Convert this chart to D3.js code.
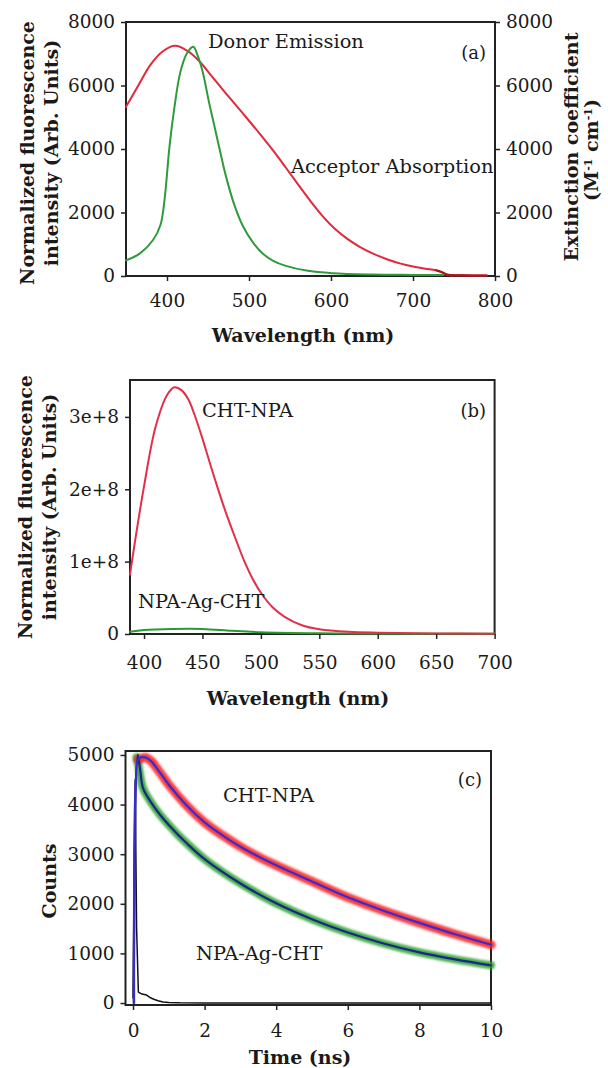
<!DOCTYPE html>
<html>
<head>
<meta charset="utf-8">
<script src="https://cdn.jsdelivr.net/npm/d3@7"></script>
<style>
  body { margin: 0; background: #fff; }
  text { font-family: "DejaVu Serif", serif; fill: #1a1a1a; }
  .tick line { stroke: #222; stroke-width: 1.5; }
  .tick text { font-size: 18.5px; }
  .ttl { font-weight: bold; font-size: 19px; }
  .ann { font-size: 19.4px; }
</style>
</head>
<body>
<svg id="chart" width="608" height="1068">
  <defs>
    <filter id="fuzz" x="-5%" y="-5%" width="110%" height="110%">
      <feGaussianBlur stdDeviation="0.9"/>
    </filter>
  </defs>
</svg>
<script>
// ---- panel (a): donor emission / acceptor absorption
const absWave = [350, 365, 380, 395, 410, 425, 440, 455, 470, 485, 500, 515, 530, 545, 560, 575, 590, 605, 620, 635, 650, 669, 685, 700, 715, 728, 736, 742, 760, 790];
const absVal  = [5330, 6000, 6660, 7080, 7250, 7090, 6750, 6280, 5810, 5350, 4890, 4420, 3930, 3410, 2880, 2360, 1880, 1480, 1170, 920, 720, 520, 390, 300, 230, 180, 110, 40, 25, 15];
const emWave = [350, 367, 383, 392, 397, 403, 409, 416, 424, 432, 438, 444, 451, 458, 465, 472, 482, 493, 505, 517, 530, 545, 570, 602, 650, 700, 737];
const emVal  = [490, 714, 1134, 1606, 2400, 4070, 5300, 6390, 7000, 7220, 6900, 6380, 5500, 4700, 3900, 3130, 2250, 1550, 1050, 700, 470, 320, 170, 85, 45, 35, 30];
const aXTicks = [400, 500, 600, 700, 800];
const aYTicks = [0, 2000, 4000, 6000, 8000];

// ---- panel (b): steady-state emission
const bWave = [388, 392, 400, 410, 420, 426, 432, 438, 443, 450, 456, 463, 470, 478, 486, 493, 500, 510, 520, 535, 550, 575, 600, 650, 700];
const bCht  = [0.82e8, 1.25e8, 2.04e8, 2.87e8, 3.31e8, 3.41e8, 3.37e8, 3.24e8, 3.04e8, 2.70e8, 2.38e8, 2.02e8, 1.68e8, 1.33e8, 1.00e8, 0.76e8, 0.57e8, 0.37e8, 0.24e8, 0.12e8, 0.065e8, 0.03e8, 0.018e8, 0.008e8, 0.005e8];
const bAgWave = [388, 400, 425, 450, 475, 500, 550, 600, 700];
const bAg     = [0.03e8, 0.055e8, 0.07e8, 0.07e8, 0.045e8, 0.025e8, 0.01e8, 0.005e8, 0.003e8];
const bXTicks = [400, 450, 500, 550, 600, 650, 700];
const bYTicks = [0, 1e8, 2e8, 3e8];
const bYLabels = ["0", "1e+8", "2e+8", "3e+8"];

// ---- panel (c): lifetime decay
const cRedT = [0.14, 0.2, 0.35, 0.5, 0.75, 1, 1.5, 2, 2.5, 3, 3.5, 4, 5, 6, 7, 8, 9, 10];
const cRed  = [4900, 4920, 4950, 4880, 4650, 4400, 3980, 3640, 3380, 3150, 2950, 2775, 2450, 2130, 1860, 1615, 1385, 1175];
const cGreenT = [0.1, 0.15, 0.28, 0.5, 0.76, 1, 1.23, 1.5, 2, 2.5, 3, 3.5, 4, 5, 6, 7, 8, 9, 10];
const cGreen  = [4950, 4800, 4330, 4050, 3790, 3590, 3410, 3220, 2900, 2640, 2410, 2200, 2010, 1690, 1420, 1200, 1020, 880, 760];
const fitRedT = [0.03, 0.08, 0.15, 0.35, 0.5, 0.75, 1, 1.5, 2, 2.5, 3, 4, 5, 6, 7, 8, 9, 10];
const fitRed  = [0, 4500, 4920, 4950, 4880, 4650, 4400, 3980, 3640, 3380, 3150, 2775, 2450, 2130, 1860, 1615, 1385, 1175];
const fitGreenT = [0.02, 0.13, 0.2, 0.28, 0.5, 0.76, 1, 1.5, 2, 3, 4, 5, 6, 7, 8, 9, 10];
const fitGreen  = [0, 5000, 4700, 4330, 4050, 3790, 3590, 3220, 2900, 2410, 2010, 1690, 1420, 1200, 1020, 880, 760];
const irfT = [0, 0.03, 0.06, 0.1, 0.15, 0.25, 0.38, 0.5, 0.6, 0.7, 0.84, 1.0, 1.3, 2, 4, 6, 8, 10];
const irf  = [100, 2500, 4500, 1500, 220, 180, 160, 100, 70, 45, 20, 10, 3, 0, 0, 0, 0, 0];
const cXTicks = [0, 2, 4, 6, 8, 10];
const cYTicks = [0, 1000, 2000, 3000, 4000, 5000];

const svg = d3.select("#chart");
const smooth = d3.curveCatmullRom.alpha(0.5);

function zip(xs, ys) { return xs.map((v, i) => [v, ys[i]]); }

function frame(x, y) {
  const [x0, x1] = x.range(), [y0, y1] = y.range();
  svg.append("rect")
    .attr("x", x0).attr("y", y1)
    .attr("width", x1 - x0).attr("height", y0 - y1)
    .attr("fill", "none").attr("stroke", "#222").attr("stroke-width", 2);
}

function xAxis(x, yPos, ticks, pad) {
  svg.append("g")
    .attr("transform", `translate(0,${yPos})`)
    .call(d3.axisBottom(x).tickValues(ticks).tickSize(5).tickPadding(pad).tickFormat(d3.format("d")))
    .call(g => g.select(".domain").remove());
}

function yAxis(y, xPos, ticks, labels, left) {
  const ax = (left ? d3.axisLeft(y) : d3.axisRight(y))
    .tickValues(ticks).tickSize(5).tickPadding(6)
    .tickFormat((d, i) => labels ? labels[i] : d3.format("d")(d));
  svg.append("g")
    .attr("transform", `translate(${xPos},0)`)
    .call(ax)
    .call(g => g.select(".domain").remove());
}

function line(x, y, pts, color, width, curve) {
  return svg.append("path")
    .datum(pts)
    .attr("fill", "none")
    .attr("stroke", color)
    .attr("stroke-width", width)
    .attr("stroke-linejoin", "round")
    .attr("stroke-linecap", "round")
    .attr("d", d3.line().x(d => x(d[0])).y(d => y(d[1])).curve(curve || smooth));
}

function label(txt, xPos, yPos, cls, anchor) {
  return svg.append("text").attr("x", xPos).attr("y", yPos)
    .attr("class", cls).attr("text-anchor", anchor || "start").text(txt);
}

function vlabel(txt, xPos, yPos) {
  return svg.append("text").attr("class", "ttl").attr("text-anchor", "middle")
    .attr("transform", `translate(${xPos},${yPos}) rotate(-90)`).text(txt);
}

// ================= (a)
const xa = d3.scaleLinear().domain([350, 800]).range([126, 495]);
const ya = d3.scaleLinear().domain([0, 8000]).range([276, 22]);
frame(xa, ya);
line(xa, ya, zip(absWave, absVal), "#e3283c", 2);
line(xa, ya, zip(absWave.slice(-5), absVal.slice(-5)), "#a81818", 2);
line(xa, ya, zip(emWave, emVal), "#2f9a3c", 2);
xAxis(xa, 276, aXTicks, 13);
yAxis(ya, 126, aYTicks, null, true);
yAxis(ya, 495, aYTicks, null, false);
label("Donor Emission", 208, 48, "ann");
label("(a)", 486, 59, "ann", "end").style("font-size", "18px");
label("Acceptor Absorption", 291, 173, "ann");
label("Wavelength (nm)", 303, 342, "ttl", "middle");
vlabel("Normalized fluorescence", 34, 153);
vlabel("intensity (Arb. Units)", 58, 153);
vlabel("Extinction coefficient", 578, 147);
const sup = vlabel("", 598, 150);
sup.append("tspan").text("(M");
sup.append("tspan").attr("baseline-shift", "super").style("font-size", "11px").text("-1");
sup.append("tspan").text(" cm");
sup.append("tspan").attr("baseline-shift", "super").style("font-size", "11px").text("-1");
sup.append("tspan").text(")");

// ================= (b)
const xb = d3.scaleLinear().domain([388, 700]).range([130, 494.6]);
const yb = d3.scaleLinear().domain([0, 3.51e8]).range([634, 380]);
frame(xb, yb);
line(xb, yb, zip(bAgWave, bAg), "#2a9a30", 2);
line(xb, yb, zip(bWave, bCht), "#e0304a", 2);
xAxis(xb, 634, bXTicks, 17);
yAxis(yb, 130, bYTicks, bYLabels, true);
label("CHT-NPA", 202, 417, "ann");
label("(b)", 486, 417, "ann", "end").style("font-size", "18px");
label("NPA-Ag-CHT", 138, 608, "ann");
label("Wavelength (nm)", 298, 705, "ttl", "middle");
vlabel("Normalized fluorescence", 32, 507);
vlabel("intensity (Arb. Units)", 56, 507);

// ================= (c)
const xc = d3.scaleLinear().domain([-0.21, 10]).range([125.5, 491]);
const yc = d3.scaleLinear().domain([-40, 5080]).range([1005, 751]);
frame(xc, yc);
line(xc, yc, zip(irfT, irf), "#111", 1.5, d3.curveLinear);
line(xc, yc, zip(cGreenT, cGreen), "rgba(40,160,40,0.85)", 8).attr("filter", "url(#fuzz)");
line(xc, yc, zip(cRedT, cRed), "rgba(245,30,30,0.85)", 9).attr("filter", "url(#fuzz)");
line(xc, yc, zip(fitGreenT, fitGreen), "#17288a", 2.2);
line(xc, yc, zip(fitRedT, fitRed), "#3a2ad0", 2.2);
xAxis(xc, 1005, cXTicks, 14);
yAxis(yc, 125.5, cYTicks, null, true);
label("CHT-NPA", 223, 802, "ann");
label("(c)", 482, 786, "ann", "end").style("font-size", "18px");
label("NPA-Ag-CHT", 196, 960, "ann");
label("Time (ns)", 300, 1064, "ttl", "middle");
vlabel("Counts", 56, 881);
</script>
</body>
</html>
